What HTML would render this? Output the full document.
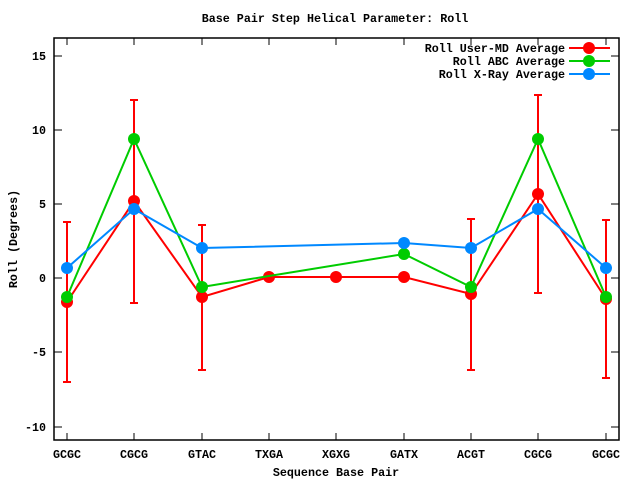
<!DOCTYPE html><html><head><style>body{margin:0;background:#fff}svg text{font-family:"Liberation Mono",monospace;font-weight:bold;font-size:11.7px}</style></head><body>
<svg width="640" height="480" xmlns="http://www.w3.org/2000/svg">
<rect width="640" height="480" fill="#fff"/>
<text x="335" y="22" text-anchor="middle">Base Pair Step Helical Parameter: Roll</text>
<rect x="54" y="38" width="565" height="402" fill="none" stroke="#000" stroke-width="1.5"/>
<g stroke="#000" stroke-width="1">
<line x1="54" y1="56" x2="62" y2="56"/><line x1="611" y1="56" x2="619" y2="56"/>
<line x1="54" y1="130" x2="62" y2="130"/><line x1="611" y1="130" x2="619" y2="130"/>
<line x1="54" y1="204" x2="62" y2="204"/><line x1="611" y1="204" x2="619" y2="204"/>
<line x1="54" y1="278" x2="62" y2="278"/><line x1="611" y1="278" x2="619" y2="278"/>
<line x1="54" y1="352" x2="62" y2="352"/><line x1="611" y1="352" x2="619" y2="352"/>
<line x1="54" y1="427" x2="62" y2="427"/><line x1="611" y1="427" x2="619" y2="427"/>
</g>
<g text-anchor="end">
<text x="46" y="60">15</text><text x="46" y="134">10</text><text x="46" y="208">5</text><text x="46" y="282">0</text><text x="46" y="356">-5</text><text x="46" y="431">-10</text>
</g>
<g stroke="#000">
<line x1="67" y1="38" x2="67" y2="45"/><line x1="67" y1="433" x2="67" y2="440"/>
<line x1="134" y1="38" x2="134" y2="45"/><line x1="134" y1="433" x2="134" y2="440"/>
<line x1="202" y1="38" x2="202" y2="45"/><line x1="202" y1="433" x2="202" y2="440"/>
<line x1="269" y1="38" x2="269" y2="45"/><line x1="269" y1="433" x2="269" y2="440"/>
<line x1="336" y1="38" x2="336" y2="45"/><line x1="336" y1="433" x2="336" y2="440"/>
<line x1="404" y1="38" x2="404" y2="45"/><line x1="404" y1="433" x2="404" y2="440"/>
<line x1="471" y1="38" x2="471" y2="45"/><line x1="471" y1="433" x2="471" y2="440"/>
<line x1="538" y1="38" x2="538" y2="45"/><line x1="538" y1="433" x2="538" y2="440"/>
<line x1="606" y1="38" x2="606" y2="45"/><line x1="606" y1="433" x2="606" y2="440"/>
</g>
<g text-anchor="middle">
<text x="67" y="458">GCGC</text><text x="134" y="458">CGCG</text><text x="202" y="458">GTAC</text><text x="269" y="458">TXGA</text><text x="336" y="458">XGXG</text><text x="404" y="458">GATX</text><text x="471" y="458">ACGT</text><text x="538" y="458">CGCG</text><text x="606" y="458">GCGC</text>
<text x="336" y="476">Sequence Base Pair</text>
</g>
<text transform="translate(17,239) rotate(-90)" text-anchor="middle">Roll (Degrees)</text>
<g stroke="#f00" stroke-width="2">
<line x1="67" y1="222" x2="67" y2="382"/><line x1="63" y1="222" x2="71" y2="222"/><line x1="63" y1="382" x2="71" y2="382"/>
<line x1="134" y1="100" x2="134" y2="303"/><line x1="130" y1="100" x2="138" y2="100"/><line x1="130" y1="303" x2="138" y2="303"/>
<line x1="202" y1="225" x2="202" y2="370"/><line x1="198" y1="225" x2="206" y2="225"/><line x1="198" y1="370" x2="206" y2="370"/>
<line x1="471" y1="219" x2="471" y2="370"/><line x1="467" y1="219" x2="475" y2="219"/><line x1="467" y1="370" x2="475" y2="370"/>
<line x1="538" y1="95" x2="538" y2="293"/><line x1="534" y1="95" x2="542" y2="95"/><line x1="534" y1="293" x2="542" y2="293"/>
<line x1="606" y1="220" x2="606" y2="378"/><line x1="602" y1="220" x2="610" y2="220"/><line x1="602" y1="378" x2="610" y2="378"/>
</g>
<polyline fill="none" stroke="#f00" stroke-width="2" points="67,302 134,201 202,297 269,277 336,277 404,277 471,294 538,194 606,299"/>
<g fill="#f00"><circle cx="67" cy="302" r="6"/><circle cx="134" cy="201" r="6"/><circle cx="202" cy="297" r="6"/><circle cx="269" cy="277" r="6"/><circle cx="336" cy="277" r="6"/><circle cx="404" cy="277" r="6"/><circle cx="471" cy="294" r="6"/><circle cx="538" cy="194" r="6"/><circle cx="606" cy="299" r="6"/></g>
<polyline fill="none" stroke="#0c0" stroke-width="2" points="67,297 134,139 202,287 269,276 404,254 471,287 538,139 606,297"/>
<g fill="#0c0"><circle cx="67" cy="297" r="6"/><circle cx="134" cy="139" r="6"/><circle cx="202" cy="287" r="6"/><circle cx="404" cy="254" r="6"/><circle cx="471" cy="287" r="6"/><circle cx="538" cy="139" r="6"/><circle cx="606" cy="297" r="6"/></g>
<polyline fill="none" stroke="#08f" stroke-width="2" points="67,268 134,209 202,248 404,243 471,248 538,209 606,268"/>
<g fill="#08f"><circle cx="67" cy="268" r="6"/><circle cx="134" cy="209" r="6"/><circle cx="202" cy="248" r="6"/><circle cx="404" cy="243" r="6"/><circle cx="471" cy="248" r="6"/><circle cx="538" cy="209" r="6"/><circle cx="606" cy="268" r="6"/></g>
<g text-anchor="end"><text x="565" y="52">Roll User-MD Average</text><text x="565" y="65">Roll ABC Average</text><text x="565" y="78">Roll X-Ray Average</text></g>
<line x1="569" y1="48" x2="610" y2="48" stroke="#f00" stroke-width="2"/><circle cx="589" cy="48" r="6" fill="#f00"/>
<line x1="569" y1="61" x2="610" y2="61" stroke="#0c0" stroke-width="2"/><circle cx="589" cy="61" r="6" fill="#0c0"/>
<line x1="569" y1="74" x2="610" y2="74" stroke="#08f" stroke-width="2"/><circle cx="589" cy="74" r="6" fill="#08f"/>
</svg></body></html>
